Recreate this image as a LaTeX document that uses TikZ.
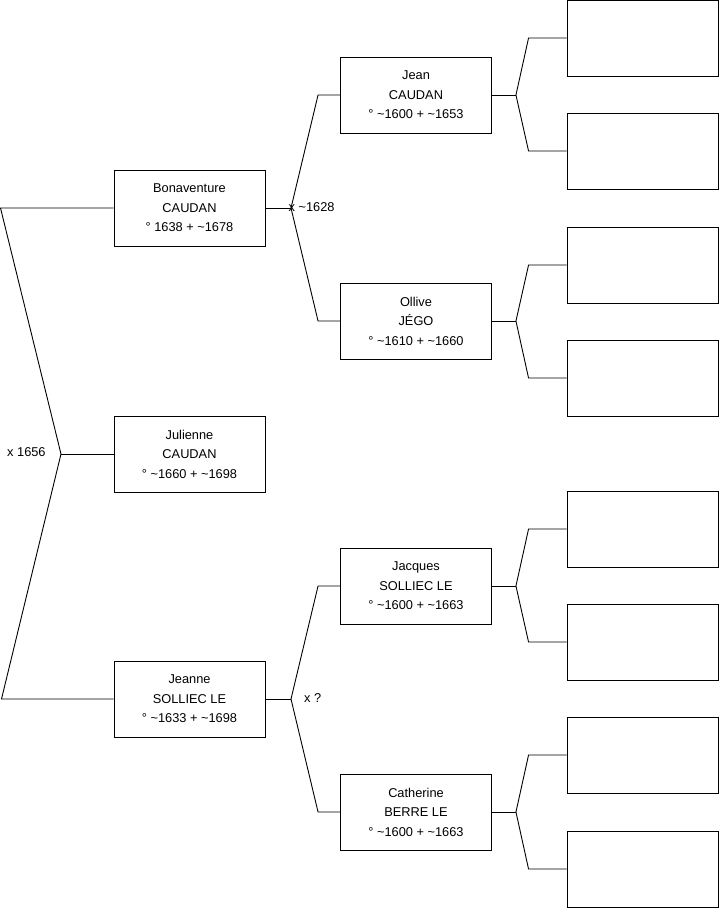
\documentclass[tikz,border=0pt]{standalone}
\usepackage{fontspec}
\setmainfont{Liberation Sans}
\begin{document}
\begin{tikzpicture}[x=1pt,y=-1pt,
  box/.style={draw=black, line width=0.9pt, minimum width=151pt, minimum height=76pt, inner sep=0pt, align=center, font=\fontsize{12.8}{19.5}\selectfont},
  conn/.style={draw=black, line width=0.9pt},
  lbl/.style={font=\fontsize{12.8}{15}\selectfont, inner sep=0pt}]
\useasboundingbox (0,0) rectangle (719,908);
% generation 1
\node[box] (bon) at (189.5,208) {Bonaventure\\CAUDAN\\° 1638 + \textasciitilde1678};
\node[box] (jul) at (189.5,454) {Julienne\\CAUDAN\\° \textasciitilde1660 + \textasciitilde1698};
\node[box] (jea) at (189.5,699) {Jeanne\\SOLLIEC LE\\° \textasciitilde1633 + \textasciitilde1698};
% generation 2
\node[box] (jean) at (416,95) {Jean\\CAUDAN\\° \textasciitilde1600 + \textasciitilde1653};
\node[box] (oll) at (416,321) {Ollive\\JÉGO\\° \textasciitilde1610 + \textasciitilde1660};
\node[box] (jac) at (416,586) {Jacques\\SOLLIEC LE\\° \textasciitilde1600 + \textasciitilde1663};
\node[box] (cat) at (416,812) {Catherine\\BERRE LE\\° \textasciitilde1600 + \textasciitilde1663};
% generation 3
\node[box] (e1) at (642.5,38) {};
\node[box] (e2) at (642.5,151) {};
\node[box] (e3) at (642.5,265) {};
\node[box] (e4) at (642.5,378) {};
\node[box] (e5) at (642.5,529) {};
\node[box] (e6) at (642.5,642) {};
\node[box] (e7) at (642.5,755) {};
\node[box] (e8) at (642.5,869) {};
% root connector
\coordinate (rt) at (0.5,208);
\coordinate (rb) at (1.5,699);
\coordinate (rm) at (61,454);
\draw[conn] (bon.west) -- (rt) -- (rm) -- (rb) -- (jea.west);
\draw[conn] (rm) -- (jul.west);
\node[lbl, anchor=west] (l0) at (7,452) {x 1656};
% gen1 -> gen2
\coordinate (m1) at (291,208);
\draw[conn] (bon.east) -- (m1);
\draw[conn] (jean.west) -- ([xshift=-22pt]jean.west) -- (m1) -- ([xshift=-22pt]oll.west) -- (oll.west);
\node[lbl, anchor=west] (l1) at (288.5,207) {x \textasciitilde1628};
\coordinate (m2) at (291,699);
\draw[conn] (jea.east) -- (m2);
\draw[conn] (jac.west) -- ([xshift=-22pt]jac.west) -- (m2) -- ([xshift=-22pt]cat.west) -- (cat.west);
\node[lbl, anchor=west] (l2) at (304,698) {x ?};
% gen2 -> gen3
\foreach \p/\a/\b in {jean/e1/e2, oll/e3/e4, jac/e5/e6, cat/e7/e8}{
  \coordinate (v\p) at ([xshift=24pt]\p.east);
  \draw[conn] (\p.east) -- (v\p);
  \draw[conn] (\a.west) -- ([xshift=-38pt]\a.west) -- (v\p) -- ([xshift=-38pt]\b.west) -- (\b.west);
}
\end{tikzpicture}
\end{document}
